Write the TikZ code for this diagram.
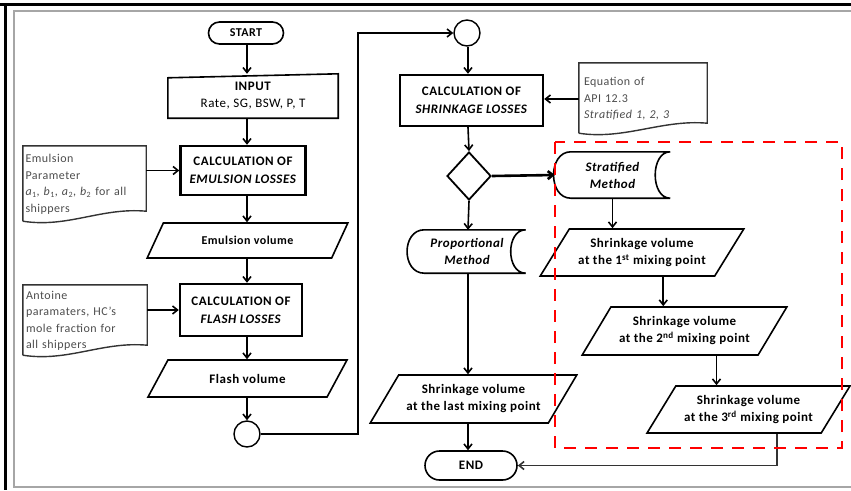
\documentclass[tikz,border=0pt]{standalone}
\usepackage{fontspec}
\setmainfont{Carlito}[LetterSpace=4]
\usetikzlibrary{arrows.meta,shapes,positioning,calc}

% outline of a note (document symbol) round a node
\newcommand{\docoutline}[1]{%
  \draw[docline] ([yshift=2pt]#1.south west) -- (#1.north west) -- (#1.north east) -- ([yshift=12pt]#1.south east)
    .. controls ([xshift=-45pt,yshift=16pt]#1.south east) and ([xshift=45pt,yshift=-5pt]#1.south west) .. ([yshift=2pt]#1.south west);}
% outline of a stored data symbol round a node
\newcommand{\storedoutline}[1]{%
  \draw[ioline] ([xshift=16pt]#1.north west) -- (#1.north east)
    .. controls ([xshift=-20pt]#1.north east) and ([xshift=-20pt]#1.south east) .. (#1.south east)
    -- ([xshift=16pt]#1.south west)
    .. controls ([xshift=-7pt]#1.south west) and ([xshift=-7pt]#1.north west) .. ([xshift=16pt]#1.north west);}

\begin{document}
\begin{tikzpicture}[x=1pt,y=-1pt,
  every node/.style={align=center, font=\fontsize{13}{15}\selectfont},
  arr/.style={-{Straight Barb[length=5pt,width=8pt]}, line width=1.6pt},
  ioline/.style={line width=1.6pt},
  docline/.style={line width=1.4pt, black!80},
  termbox/.style={rounded rectangle, draw, line width=1.6pt, inner sep=0pt, font=\bfseries\fontsize{12}{14}\selectfont},
  calcbox/.style={rectangle, draw, line width=2.4pt, inner sep=0pt, font=\bfseries\fontsize{13}{18}\selectfont},
  iobox/.style={trapezium, trapezium left angle=48, trapezium right angle=132, trapezium stretches=true, draw, line width=1.6pt, inner sep=0pt, font=\bfseries\fontsize{13}{17}\selectfont},
  ionote/.style={rectangle, inner sep=0pt, font=\fontsize{13}{17}\selectfont},
  docnote/.style={rectangle, inner sep=0pt, text width=118pt, align=left, text=black!70, font=\fontsize{12}{16.5}\selectfont},
  stored/.style={rectangle, inner sep=0pt, font=\bfseries\itshape\fontsize{13}{17}\selectfont},
  joint/.style={circle, draw, line width=1.4pt, minimum size=26pt, inner sep=0pt},
  decision/.style={diamond, draw, line width=1.8pt, minimum width=44pt, minimum height=48pt, inner sep=0pt}
  ]
\useasboundingbox (0,0) rectangle (851,490);

% frame
\draw[line width=3pt] (0,4) -- (851,4);
\draw[line width=3pt] (5,4) -- (5,490);
\draw[black!35, line width=2.5pt] (851,11) -- (14,11) -- (14,487) -- (851,487);

% column guides
\coordinate (lcol) at (247,0);
\coordinate (rcol) at (468,0);
\coordinate (rise) at (358,0);
\coordinate (drop) at (777,0);

% left column
\node[termbox, minimum width=75pt, minimum height=22pt] (start) at (246,33) {START};
\node[ionote, minimum width=170pt, minimum height=44pt] (inp) at (253,96) {\textbf{INPUT}\\Rate, SG, BSW, P, T};
\draw[ioline] (inp.south west) -- ([yshift=-4pt]inp.north west) -- (inp.north east) -- (inp.south east) -- cycle;
\node[calcbox, minimum width=125pt, minimum height=49pt] (emcalc) at (243,170.5) {CALCULATION OF\\\textit{EMULSION LOSSES}};
\node[docnote, minimum width=123pt, minimum height=77pt] (emdoc) at (84.5,184.5) {Emulsion\\Parameter\\\textit{a}\textsubscript{1}, \textit{b}\textsubscript{1}, \textit{a}\textsubscript{2}, \textit{b}\textsubscript{2} for all\\shippers};
\docoutline{emdoc}
\node[iobox, trapezium left angle=44, trapezium right angle=136, minimum width=201pt, minimum height=35pt, font=\bfseries\fontsize{12}{14}\selectfont] (emvol) at (247.5,240.5) {Emulsion volume};
\node[calcbox, minimum width=122pt, minimum height=52pt] (flcalc) at (241,310) {CALCULATION OF\\\textit{FLASH LOSSES}};
\node[docnote, minimum width=124pt, minimum height=72pt] (fldoc) at (85,321) {Antoine\\paramaters, HC's\\mole fraction for\\all shippers};
\docoutline{fldoc}
\node[iobox, trapezium left angle=44, trapezium right angle=136, minimum width=201pt, minimum height=37pt, font=\bfseries\fontsize{13}{15}\selectfont] (flvol) at (247.5,378.5) {Flash volume};
\node[joint] (c1) at (247,434) {};

\draw[arr] (lcol |- start.south) -- (lcol |- inp.north);
\draw[arr] (lcol |- inp.south) -- (lcol |- emcalc.north);
\draw[arr] (emdoc.east |- emcalc) -- (emcalc.west);
\draw[arr] (lcol |- emcalc.south) -- (lcol |- emvol.north);
\draw[arr] (lcol |- emvol.south) -- (lcol |- flcalc.north);
\draw[arr] (fldoc.east |- flcalc) -- (flcalc.west);
\draw[arr] (lcol |- flcalc.south) -- (lcol |- flvol.north);
\draw[arr] (lcol |- flvol.south) -- (c1.north);

% right column
\node[joint] (c2) at (467,33) {};
\draw[arr] (c1.east) -- (c1.east -| rise) |- (c2.west);
\node[calcbox, minimum width=143pt, minimum height=51pt] (shcalc) at (471.5,100.5) {CALCULATION OF\\\textit{SHRINKAGE LOSSES}};
\node[docnote, minimum width=128pt, minimum height=72pt, text width=118pt] (shdoc) at (643,99) {Equation of\\API 12.3\\\textit{Stratified 1, 2, 3}};
\docoutline{shdoc}
\node[decision] (dia) at (469,176) {};
\node[stored, minimum width=117pt, minimum height=43pt] (prop) at (467,251.5) {Proportional\\Method};
\storedoutline{prop}
\node[iobox, minimum width=207pt, minimum height=48pt] (lastvol) at (473.5,399) {Shrinkage volume\\at the last mixing point};
\node[termbox, minimum width=92pt, minimum height=29pt, font=\bfseries\fontsize{13}{15}\selectfont] (endn) at (471,465.5) {END};

\draw[arr] (rcol |- c2.south) -- (rcol |- shcalc.north);
\draw[arr] (shdoc.west) -- (shdoc.west -| shcalc.east);
\draw[arr] (rcol |- shcalc.south) -- (dia.north);
\draw[arr] (dia.south) -- (rcol |- prop.north);
\draw[arr] (rcol |- prop.south) -- (rcol |- lastvol.north);
\draw[arr] (rcol |- lastvol.south) -- (rcol |- endn.north);

% stratified branch
\node[stored, minimum width=115pt, minimum height=46pt] (strat) at (612.5,175) {Stratified\\Method};
\storedoutline{strat}
\node[iobox, minimum width=204pt, minimum height=47pt] (sv1) at (642,252.5) {Shrinkage volume\\at the 1\textsuperscript{st} mixing point};
\node[iobox, minimum width=205pt, minimum height=48pt] (sv2) at (684.5,331) {Shrinkage volume\\at the 2\textsuperscript{nd} mixing point};
\node[iobox, minimum width=203pt, minimum height=47pt] (sv3) at (748.5,409.5) {Shrinkage volume\\at the 3\textsuperscript{rd} mixing point};
\coordinate (m12) at ($(sv1.south)!.5!(sv2.north)$);
\coordinate (m23) at ($(sv2.south)!.5!(sv3.north)$);

\draw[arr, line width=2.6pt] (dia.east) -- (strat.west);
\draw[arr] (strat.south) -- (strat.south |- sv1.north);
\draw[arr] (m12 |- sv1.south) -- (m12 |- sv2.north);
\draw[arr] (m23 |- sv2.south) -- (m23 |- sv3.north);
\draw[arr, black!80] (drop |- sv3.south) |- (endn.east);

% stratified group
\draw[red, line width=2.5pt, dash pattern=on 12pt off 9pt] (555,142) rectangle (842,448);
\end{tikzpicture}
\end{document}
